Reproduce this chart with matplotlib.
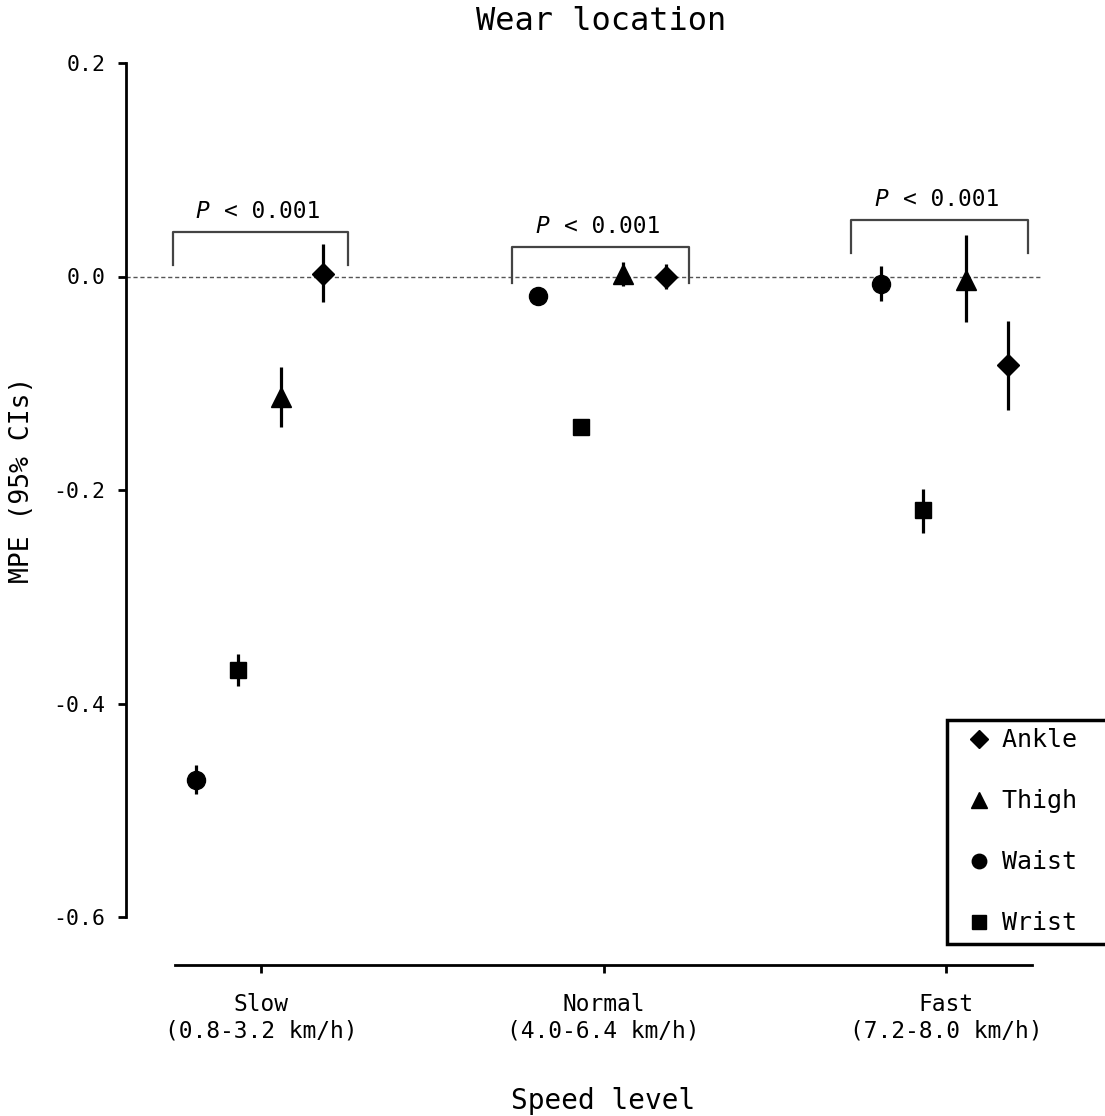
import matplotlib
matplotlib.use("Agg")
import matplotlib.pyplot as plt
import numpy as np

plt.rcParams['font.family'] = ['DejaVu Sans Mono']

# ---- data ----
groups = ["Slow", "Normal", "Fast"]
group_ranges = ["(0.8-3.2 km/h)", "(4.0-6.4 km/h)", "(7.2-8.0 km/h)"]
locations = ["Waist", "Wrist", "Thigh", "Ankle"]          # left-to-right order within a group
markers = {"Waist": "o", "Wrist": "s", "Thigh": "^", "Ankle": "D"}
marker_sizes = {"Waist": 13, "Wrist": 12, "Thigh": 14, "Ankle": 11}

waist_mpe = [-0.472, -0.018, -0.007]
waist_lo = [-0.485, -0.022, -0.023]
waist_hi = [-0.458, -0.013, 0.010]

wrist_mpe = [-0.369, -0.141, -0.219]
wrist_lo = [-0.384, -0.146, -0.240]
wrist_hi = [-0.354, -0.136, -0.199]

thigh_mpe = [-0.113, 0.002, -0.003]
thigh_lo = [-0.141, -0.009, -0.043]
thigh_hi = [-0.085, 0.014, 0.039]

ankle_mpe = [0.002, 0.000, -0.083]
ankle_lo = [-0.024, -0.012, -0.125]
ankle_hi = [0.030, 0.012, -0.042]

series = {
    "Waist": (waist_mpe, waist_lo, waist_hi),
    "Wrist": (wrist_mpe, wrist_lo, wrist_hi),
    "Thigh": (thigh_mpe, thigh_lo, thigh_hi),
    "Ankle": (ankle_mpe, ankle_lo, ankle_hi),
}
offsets = [-0.19, -0.067, 0.058, 0.181]

p_value = ["< 0.001", "< 0.001", "< 0.001"]
bracket_x = [(-0.257, 0.254), (-0.267, 0.250), (-0.277, 0.239)]
bracket_top = [0.042, 0.028, 0.053]
bracket_bottom = [0.011, -0.006, 0.022]

# ---- figure ----
W, H = 1105, 1116
fig = plt.figure(figsize=(W / 100, H / 100), dpi=100)
ax = fig.add_axes([126 / W, 1 - 917 / H, (1043 - 126) / W, (917 - 63) / H])

x = np.arange(len(groups))
handles = {}
for loc, off in zip(locations, offsets):
    m, lo, hi = series[loc]
    m = np.array(m); lo = np.array(lo); hi = np.array(hi)
    ax.errorbar(x + off, m, yerr=[m - lo, hi - m], fmt=markers[loc],
                color="black", ms=marker_sizes[loc], elinewidth=2.3,
                capsize=0, zorder=3)
    handles[loc] = ax.plot([], [], linestyle="none", marker=markers[loc],
                           color="black", ms=marker_sizes[loc] * 0.8)[0]

ax.axhline(0, color="#555555", lw=1.0, ls=(0, (3, 2)), zorder=1)

# brackets with p-values
for i in range(len(groups)):
    x0, x1 = x[i] + bracket_x[i][0], x[i] + bracket_x[i][1]
    ax.plot([x0, x0, x1, x1],
            [bracket_bottom[i], bracket_top[i], bracket_top[i], bracket_bottom[i]],
            color="#444444", lw=1.6, zorder=2)
    xc = (x0 + x1) / 2
    yt = bracket_top[i] + 0.019
    ax.text(xc - 0.17, yt, "P", style="italic", ha="center", va="center", fontsize=16.5)
    ax.text(xc + 0.035, yt, p_value[i], ha="center", va="center", fontsize=16.5)

ax.set_xlim(-0.394, 2.283)
ax.set_ylim(-0.6, 0.2)
ax.set_yticks([0.2, 0.0, -0.2, -0.4, -0.6])
ax.set_yticklabels(["0.2", "0.0", "-0.2", "-0.4", "-0.6"])
ax.set_xticks(x)
ax.set_xticklabels([f"{g}\n{r}" for g, r in zip(groups, group_ranges)],
                   linespacing=1.2)

for s in ["top", "right"]:
    ax.spines[s].set_visible(False)
ax.spines["left"].set_linewidth(2.0)
ax.spines["bottom"].set_linewidth(2.0)
ax.spines["bottom"].set_position(("outward", 34.5))
ax.spines["bottom"].set_bounds(-0.25, 2.25)
ax.tick_params(axis="y", direction="out", length=6, width=2.0, pad=9, labelsize=15.5)
ax.tick_params(axis="x", direction="out", length=6, width=2.0, pad=14, labelsize=16.5)

fig.text(601 / W, 1 - 21 / H, "Wear location", ha="center", va="center", fontsize=23)
fig.text(603 / W, 1 - 1101 / H, "Speed level", ha="center", va="center", fontsize=20)
fig.text(22 / W, 1 - 480 / H, "MPE (95% CIs)", ha="center", va="center",
         rotation=90, fontsize=19)

leg_order = ["Ankle", "Thigh", "Waist", "Wrist"]
leg = fig.legend([handles[k] for k in leg_order], [k + "  " for k in leg_order],
                 loc="upper left", bbox_to_anchor=(947 / W, 1 - 720 / H),
                 bbox_transform=fig.transFigure, borderaxespad=0,
                 frameon=True, fancybox=False, fontsize=18, labelspacing=1.48,
                 handlelength=1.9, handletextpad=-0.05, borderpad=0.33,
                 edgecolor="black", framealpha=1.0)
leg.get_frame().set_linewidth(2.5)

fig.savefig("out.png", dpi=100)
